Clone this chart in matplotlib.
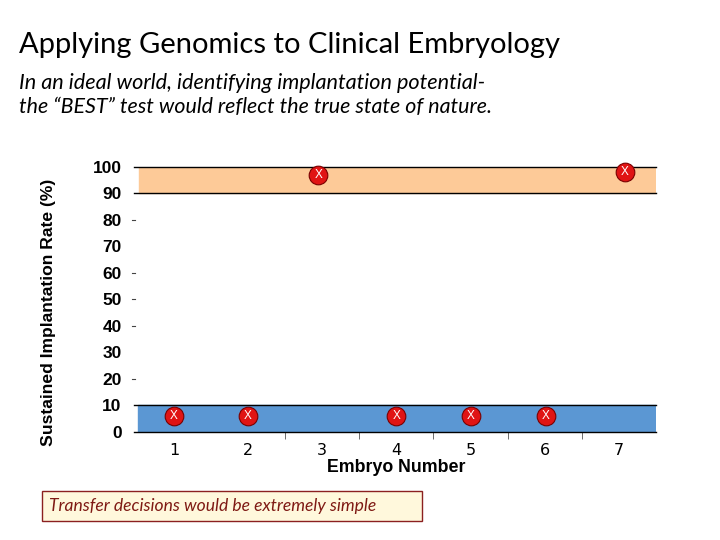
import matplotlib
matplotlib.use("Agg")
import matplotlib.pyplot as plt
from matplotlib.patches import Rectangle

# embryo data
embryos = [1, 2, 3, 4, 5, 6, 7]
point_x = [1, 2, 2.95, 4, 5, 6.02, 7.08]
rates = [6, 6, 97, 6, 6, 6, 98]
y_ticks = [0, 10, 20, 30, 40, 50, 60, 70, 80, 90, 100]
dash_ticks = [20, 40, 50, 60, 80]
high_band = (90, 100)
low_band = (0, 10)

fig = plt.figure(figsize=(7.2, 5.4), dpi=100)

fig.text(0.027, 0.902, "Applying Genomics to Clinical Embryology",
         family="Lato", fontsize=21, color="black")
fig.text(0.027, 0.835, "In an ideal world, identifying implantation potential-",
         family="Lato", style="italic", fontsize=15.6, color="black")
fig.text(0.027, 0.791, "the \u201cBEST\u201d test would reflect the true state of nature.",
         family="Lato", style="italic", fontsize=15.4, color="black")

ax = fig.add_axes([0.19, 0.2, 0.721, 0.491])
ax.set_xlim(0.5, 7.5)
ax.set_ylim(0, 100)

# bands
ax.axhspan(high_band[0], high_band[1], xmin=0.004, color="#fdca98", zorder=1)
ax.axhspan(low_band[0], low_band[1], xmin=0.002, color="#5b97d3", zorder=1)
for yv in [high_band[0], high_band[1], low_band[0], low_band[1]]:
    ax.axhline(yv, xmin=-0.006, xmax=1, color="black", lw=1.0, clip_on=False, zorder=2)

# points
ax.scatter(point_x, rates, s=180, color="#e01414", edgecolor="#7a0000",
           linewidth=0.8, zorder=4, clip_on=False)
for xe, ye in zip(point_x, rates):
    ax.text(xe, ye, "X", ha="center", va="center", color="white",
            family="Liberation Sans", fontsize=8.5, zorder=5)

for s in ax.spines.values():
    s.set_visible(False)

ax.set_yticks(y_ticks)
ax.set_yticklabels([str(v) for v in y_ticks], family="Liberation Sans",
                   fontweight="bold", fontsize=12.5)
ax.tick_params(axis="y", length=0, pad=11)
for yv in dash_ticks:
    ax.plot([-0.01, -0.003], [yv, yv], transform=ax.get_yaxis_transform(),
            color="#444444", lw=0.8, clip_on=False)

ax.set_xticks(embryos)
ax.set_xticklabels([str(v) for v in embryos], family="DejaVu Sans", fontsize=11.5)
ax.tick_params(axis="x", length=0, pad=8)
ax.set_xticks([2.5, 3.5, 4.5, 5.5, 6.5], minor=True)
ax.tick_params(axis="x", which="minor", length=5, color="#555555", direction="out")

ax.set_xlabel("Embryo Number", family="Liberation Sans", fontweight="bold",
              fontsize=12.8, labelpad=1)
ax.set_ylabel("Sustained Implantation Rate (%)", family="Liberation Sans",
              fontweight="bold", fontsize=12.6)
ax.yaxis.set_label_coords(-0.155, 0.45)

# note box
fig.patches.append(Rectangle((42 / 720, 1 - 521 / 540), 380 / 720, 30 / 540,
                             transform=fig.transFigure, facecolor="#fff8dc",
                             edgecolor="#8b2020", linewidth=1.0))
fig.text(49 / 720, 1 - 506 / 540, "Transfer decisions would be extremely simple",
         family="Lato", style="italic", fontsize=12.6, color="#7f1a14", va="center")

fig.savefig("out.png", dpi=100)
